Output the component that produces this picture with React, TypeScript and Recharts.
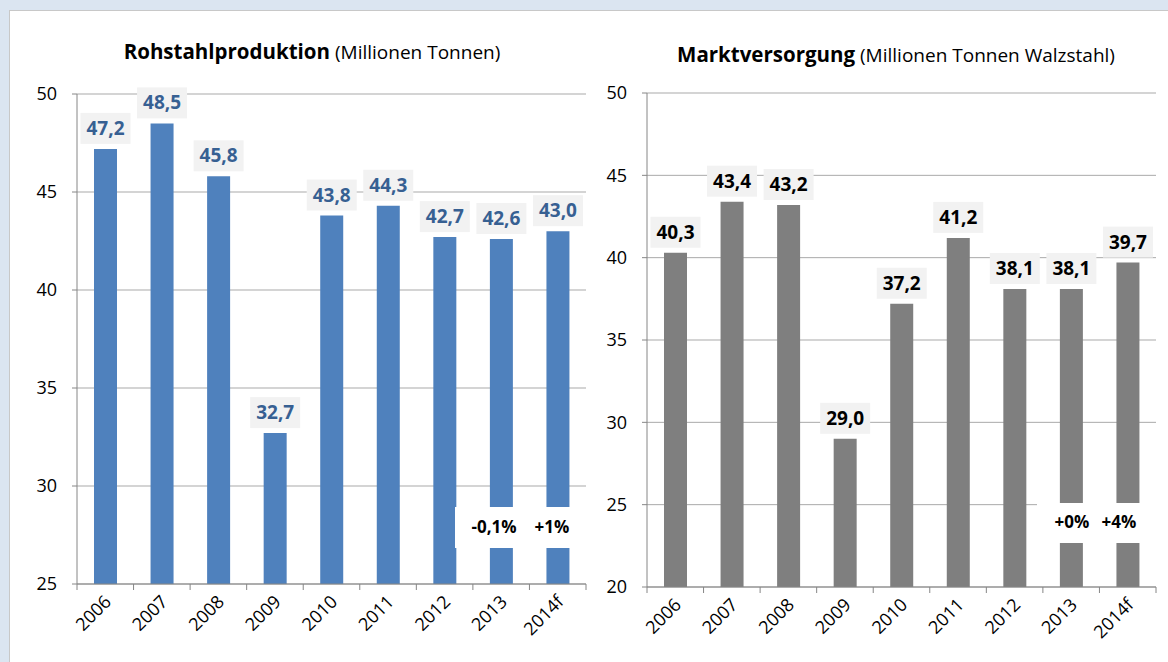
import React from 'react';
import { BarChart, Bar, XAxis, YAxis, CartesianGrid, LabelList } from 'recharts';

const years = ['2006', '2007', '2008', '2009', '2010', '2011', '2012', '2013', '2014f'];

// Rohstahlproduktion, Mio. t
const rohstahl = [47.2, 48.5, 45.8, 32.7, 43.8, 44.3, 42.7, 42.6, 43.0];
// Marktversorgung, Mio. t Walzstahl
const marktversorgung = [40.3, 43.4, 43.2, 29.0, 37.2, 41.2, 38.1, 38.1, 39.7];

const rohTicks = [25, 30, 35, 40, 45, 50];
const marktTicks = [20, 25, 30, 35, 40, 45, 50];

const rohChange = ['-0,1%', '+1%'];
const marktChange = ['+0%', '+4%'];

const rohData = years.map((year, i) => ({ year, value: rohstahl[i] }));
const marktData = years.map((year, i) => ({ year, value: marktversorgung[i] }));

const FONT = '"Open Sans", "Liberation Sans", sans-serif';
const AXIS = '#868686';
const GRID = '#a9a9a9';
const STEP = 509 / 9;

const fmt = (v: number) => v.toFixed(1).replace('.', ',');

const YearTick = (props: any) => {
  const { x, y, payload, index } = props;
  const tx = x + 7;
  const ty = y + 19;
  return (
    <g>
      <line x1={x - STEP / 2} x2={x - STEP / 2} y1={y} y2={y + 6} stroke={AXIS} />
      {index === years.length - 1 && (
        <line x1={x + STEP / 2} x2={x + STEP / 2} y1={y} y2={y + 6} stroke={AXIS} />
      )}
      <text
        x={tx}
        y={ty}
        transform={`rotate(-45, ${tx}, ${ty})`}
        textAnchor="end"
        fontSize={18}
        fill="#000"
        fontFamily={FONT}
      >
        {payload.value}
      </text>
    </g>
  );
};

const valueBox = (color: string) => (props: any) => {
  const { x, y, width, value } = props;
  const cx = Number(x) + Number(width) / 2;
  const top = Number(y) - 5 - 31;
  return (
    <g>
      <rect x={cx - 25} y={top} width={50} height={31} fill="#f2f2f2" />
      <text
        x={cx}
        y={top + 22}
        textAnchor="middle"
        fontSize={19}
        fontWeight="bold"
        fill={color}
        fontFamily={FONT}
      >
        {fmt(Number(value))}
      </text>
    </g>
  );
};

const yTick = { fontSize: 18, fill: '#000', fontFamily: FONT };

const App = () => {
  return (
    <div
      style={{
        position: 'fixed',
        left: 0,
        top: 0,
        width: 1168,
        height: 662,
        overflow: 'hidden',
        background: '#dbe5f1',
        fontFamily: FONT,
      }}
    >
      {/* white panel */}
      <div
        style={{
          position: 'absolute',
          left: 9,
          top: 10,
          right: 0,
          bottom: 0,
          background: '#fff',
          borderLeft: '1px solid #c8c8c8',
          borderTop: '1px solid #c8c8c8',
        }}
      />

      {/* Rohstahlproduktion */}
      <div style={{ position: 'absolute', left: 0, top: 0 }}>
        <BarChart
          width={600}
          height={662}
          data={rohData}
          margin={{ top: 94, right: 14, bottom: 18, left: 0 }}
        >
          <CartesianGrid vertical={false} stroke={GRID} />
          <XAxis
            dataKey="year"
            height={60}
            axisLine={{ stroke: AXIS }}
            tickLine={false}
            tickSize={0}
            tickMargin={0}
            interval={0}
            tick={<YearTick />}
          />
          <YAxis
            width={77}
            domain={[25, 50]}
            ticks={rohTicks}
            interval={0}
            axisLine={{ stroke: AXIS }}
            tickLine={{ stroke: AXIS }}
            tickSize={5}
            tickMargin={15}
            tick={yTick}
          />
          <YAxis
            yAxisId="edge"
            orientation="right"
            width={0}
            domain={[25, 50]}
            tick={false}
            tickLine={false}
            axisLine={{ stroke: AXIS }}
          />
          <Bar dataKey="value" fill="#4f81bd" barSize={23} isAnimationActive={false}>
            <LabelList dataKey="value" content={valueBox('#376092')} />
          </Bar>
        </BarChart>
      </div>

      {/* Marktversorgung */}
      <div style={{ position: 'absolute', left: 600, top: 0 }}>
        <BarChart
          width={568}
          height={662}
          data={marktData}
          margin={{ top: 93, right: 12, bottom: 15, left: 0 }}
        >
          <CartesianGrid vertical={false} stroke={GRID} />
          <XAxis
            dataKey="year"
            height={60}
            axisLine={{ stroke: AXIS }}
            tickLine={false}
            tickSize={0}
            tickMargin={0}
            interval={0}
            tick={<YearTick />}
          />
          <YAxis
            width={47}
            domain={[20, 50]}
            ticks={marktTicks}
            interval={0}
            axisLine={{ stroke: AXIS }}
            tickLine={{ stroke: AXIS }}
            tickSize={5}
            tickMargin={15}
            tick={yTick}
          />
          <YAxis
            yAxisId="edge"
            orientation="right"
            width={0}
            domain={[20, 50]}
            tick={false}
            tickLine={false}
            axisLine={{ stroke: AXIS }}
          />
          <Bar dataKey="value" fill="#7f7f7f" barSize={23} isAnimationActive={false}>
            <LabelList dataKey="value" content={valueBox('#000')} />
          </Bar>
        </BarChart>
      </div>

      {/* titles and change notes */}
      <svg
        width={1168}
        height={662}
        style={{ position: 'absolute', left: 0, top: 0, pointerEvents: 'none' }}
        fontFamily={FONT}
      >
        <text x={312} y={59} textAnchor="middle" fill="#000">
          <tspan fontSize={20.5} fontWeight="bold">Rohstahlproduktion</tspan>
          <tspan fontSize={19}> (Millionen Tonnen)</tspan>
        </text>
        <text x={896} y={62} textAnchor="middle" fill="#000">
          <tspan fontSize={20.5} fontWeight="bold">Marktversorgung</tspan>
          <tspan fontSize={19}> (Millionen Tonnen Walzstahl)</tspan>
        </text>

        <rect x={455} y={507} width={131} height={41} fill="#fff" />
        <text x={494} y={533} textAnchor="middle" fontSize={17} fontWeight="bold" fill="#000">
          {rohChange[0]}
        </text>
        <text x={552} y={533} textAnchor="middle" fontSize={17} fontWeight="bold" fill="#000">
          {rohChange[1]}
        </text>

        <rect x={1037} y={503} width={119} height={40} fill="#fff" />
        <text x={1072} y={528} textAnchor="middle" fontSize={17} fontWeight="bold" fill="#000">
          {marktChange[0]}
        </text>
        <text x={1119} y={528} textAnchor="middle" fontSize={17} fontWeight="bold" fill="#000">
          {marktChange[1]}
        </text>
      </svg>
    </div>
  );
};

export default App;
